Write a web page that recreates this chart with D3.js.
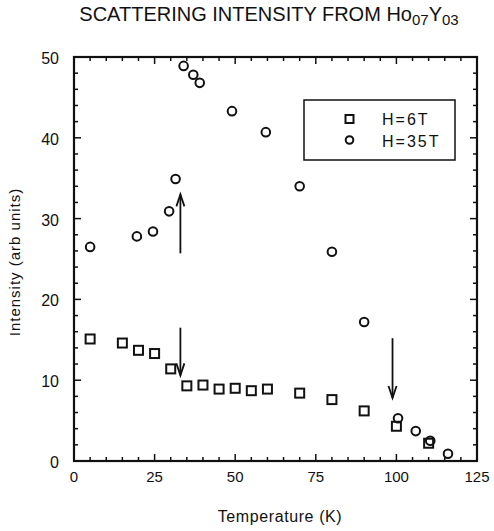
<!DOCTYPE html>
<html>
<head>
<meta charset="utf-8">
<script src="https://cdn.jsdelivr.net/npm/d3@7"></script>
<style>
  body { margin: 0; background: #fff; }
  svg text { font-family: "Liberation Sans", Arial, sans-serif; fill: #111; }
</style>
</head>
<body>
<svg id="chart" width="494" height="531"></svg>
<script>
// H = 6T (squares)
const lowTemps = [5, 15, 20, 25, 30, 35, 40, 45, 50, 55, 60, 70, 80, 90, 100, 110];
const lowInts = [15.1, 14.6, 13.7, 13.3, 11.4, 9.3, 9.4, 8.9, 9.0, 8.7, 8.9, 8.4, 7.6, 6.2, 4.3, 2.2];

// H = 35T (circles)
const highTemps = [5, 19.5, 24.5, 29.5, 31.5, 34, 37, 39, 49, 59.5, 70, 80, 90, 100.5, 106, 110.5, 116];
const highInts = [26.5, 27.8, 28.4, 30.9, 34.9, 48.9, 47.8, 46.8, 43.3, 40.7, 34.0, 25.9, 17.2, 5.3, 3.7, 2.5, 0.9];

// arrows: [temperature, from intensity, to intensity]
const arrows = [
  [33, 25.7, 33.0],
  [33, 16.5, 10.6],
  [98.8, 15.2, 7.8],
];

const xTicks = [0, 25, 50, 75, 100, 125];
const yTicks = [0, 10, 20, 30, 40, 50];
const legendLabels = ['H=6T', 'H=35T'];

const margin = { top: 57, right: 17, bottom: 70, left: 74 };
const width = 494;
const height = 531;
const innerWidth = width - margin.left - margin.right;
const innerHeight = height - margin.top - margin.bottom;

const svg = d3.select('#chart');
const g = svg.append('g').attr('transform', `translate(${margin.left},${margin.top})`);

const x = d3.scaleLinear().domain([0, 125]).range([margin.left, margin.left + innerWidth]);
const y = d3.scaleLinear().domain([0, 50]).range([margin.top + innerHeight, margin.top]);

// frame
svg.append('rect')
  .attr('x', margin.left)
  .attr('y', margin.top)
  .attr('width', innerWidth)
  .attr('height', innerHeight)
  .attr('fill', 'none')
  .attr('stroke', '#111')
  .attr('stroke-width', 2.2);

// ticks, pointing inwards on all four sides
const xMinor = d3.range(0, 126, 5);
const yMinor = d3.range(0, 51, 2);
const tickLen = (v, step) => (v % step === 0 ? 7 : 4);
const x0 = margin.left;
const x1 = margin.left + innerWidth;
const y0 = margin.top + innerHeight;
const y1 = margin.top;

const ticks = svg.append('g').attr('stroke', '#111').attr('stroke-width', 1.5);
xMinor.forEach((v) => {
  const l = tickLen(v, 25);
  ticks.append('line').attr('x1', x(v)).attr('x2', x(v)).attr('y1', y0).attr('y2', y0 - l);
  ticks.append('line').attr('x1', x(v)).attr('x2', x(v)).attr('y1', y1).attr('y2', y1 + l);
});
yMinor.forEach((v) => {
  const l = tickLen(v, 10);
  ticks.append('line').attr('y1', y(v)).attr('y2', y(v)).attr('x1', x0).attr('x2', x0 + l);
  ticks.append('line').attr('y1', y(v)).attr('y2', y(v)).attr('x1', x1).attr('x2', x1 - l);
});

// tick labels
svg.append('g').selectAll('text').data(xTicks).join('text')
  .attr('x', (d) => x(d))
  .attr('y', y0 + 21)
  .attr('text-anchor', 'middle')
  .attr('font-size', 15)
  .text((d) => d);

svg.append('g').selectAll('text').data(yTicks).join('text')
  .attr('x', x0 - 15)
  .attr('y', (d) => y(d) + 7)
  .attr('text-anchor', 'end')
  .attr('font-size', 16)
  .text((d) => d);

// axis titles
svg.append('text')
  .attr('x', 280)
  .attr('y', 522)
  .attr('text-anchor', 'middle')
  .attr('font-size', 16)
  .attr('letter-spacing', 0.6)
  .text('Temperature (K)');

svg.append('text')
  .attr('transform', 'translate(20,262) rotate(-90)')
  .attr('text-anchor', 'middle')
  .attr('font-size', 15)
  .attr('letter-spacing', 1)
  .text('Intensity (arb units)');

// title
const title = svg.append('text')
  .attr('x', 269)
  .attr('y', 21)
  .attr('text-anchor', 'middle')
  .attr('font-size', 20);
title.append('tspan').text('SCATTERING INTENSITY FROM Ho');
title.append('tspan').attr('font-size', 15).attr('dy', 4).text('07');
title.append('tspan').attr('dy', -4).text('Y');
title.append('tspan').attr('font-size', 15).attr('dy', 4).text('03');

// data points
const lowData = lowTemps.map((t, i) => [t, lowInts[i]]);
const highData = highTemps.map((t, i) => [t, highInts[i]]);

svg.append('g').selectAll('rect').data(lowData).join('rect')
  .attr('x', (d) => x(d[0]) - 4.5)
  .attr('y', (d) => y(d[1]) - 4.5)
  .attr('width', 9)
  .attr('height', 9)
  .attr('fill', 'none')
  .attr('stroke', '#111')
  .attr('stroke-width', 2);

svg.append('g').selectAll('circle').data(highData).join('circle')
  .attr('cx', (d) => x(d[0]))
  .attr('cy', (d) => y(d[1]))
  .attr('r', 4.3)
  .attr('fill', 'none')
  .attr('stroke', '#111')
  .attr('stroke-width', 2);

// arrows
const arrowG = svg.append('g').attr('stroke', '#111').attr('stroke-width', 1.8).attr('fill', 'none');
arrows.forEach(([t, from, to]) => {
  const ax = x(t);
  const ya = y(from);
  const yb = y(to);
  const dir = yb < ya ? 1 : -1;
  arrowG.append('line').attr('x1', ax).attr('x2', ax).attr('y1', ya).attr('y2', yb);
  arrowG.append('path')
    .attr('d', `M${ax - 4},${yb + dir * 12}L${ax},${yb}L${ax + 4},${yb + dir * 12}`);
});

// legend
svg.append('rect')
  .attr('x', 304).attr('y', 100)
  .attr('width', 151)
  .attr('height', 60)
  .attr('fill', '#fff')
  .attr('stroke', '#111')
  .attr('stroke-width', 1.5);
svg.append('rect')
  .attr('x', 345.5).attr('y', 115).attr('width', 8).attr('height', 8)
  .attr('fill', 'none').attr('stroke', '#111').attr('stroke-width', 2);
svg.append('circle')
  .attr('cx', 349.5).attr('cy', 140).attr('r', 3.8)
  .attr('fill', 'none').attr('stroke', '#111').attr('stroke-width', 2);
svg.append('g').selectAll('text').data(legendLabels).join('text')
  .attr('x', 382)
  .attr('y', (d, i) => 125 + i * 21.5)
  .attr('font-size', 16)
  .attr('letter-spacing', 2)
  .text((d) => d);
</script>
</body>
</html>
